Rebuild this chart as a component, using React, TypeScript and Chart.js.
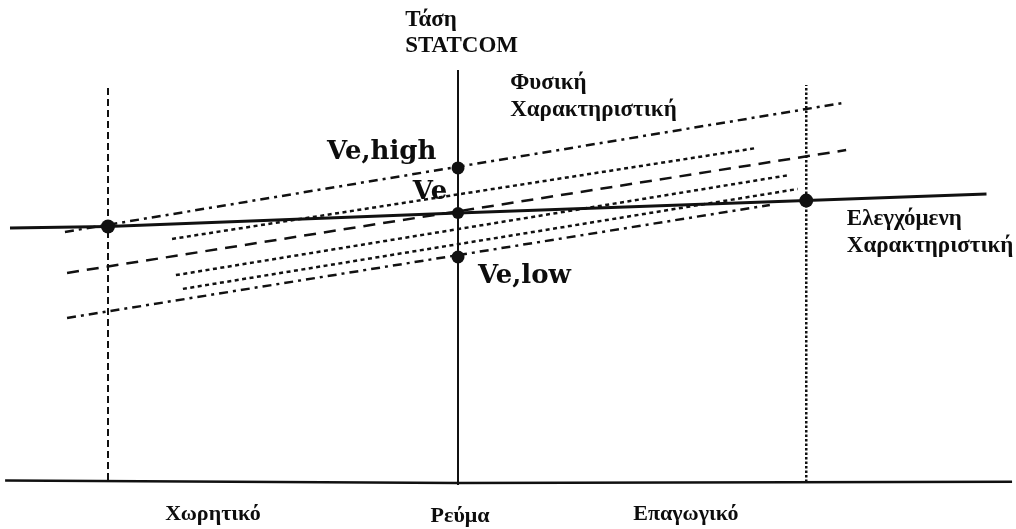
import React, { useEffect, useRef } from "react";
import { Chart, registerables } from "chart.js";

Chart.register(...registerables);

// STATCOM V–I characteristics.
// Current axis in per unit: capacitive limit at -1, inductive limit at +1.
// Voltage axis in per unit: reference voltage Ve = 1.0.

// Controlled characteristic (solid, slight droop)
const controlledI = [-1.28, -1.0, 0, 0.995, 1.51];
const controlledV = [0.944, 0.95, 1.0, 1.046, 1.07];

// Physical characteristics of the converter (family of sloped lines)
const physHighI = [-1.123, 1.097];
const physHighV = [0.93, 1.407];
const physDot1I = [-0.817, 0.854];
const physDot1V = [0.904, 1.241];
const physNomI = [-1.117, 1.109];
const physNomV = [0.778, 1.233];
const physDot2I = [-0.806, 0.949];
const physDot2V = [0.77, 1.141];
const physDot3I = [-0.786, 0.971];
const physDot3V = [0.719, 1.089];
const physLowI = [-1.117, 0.891];
const physLowV = [0.611, 1.03];

// Operating points on the controlled characteristic
const operatingI = [-1.0, 0, 0.995];
const operatingV = [0.95, 1.0, 1.046];

// Reference voltage band on the voltage axis
const bandI = [0, 0];
const bandV = [1.167, 0.837];

// Axes and current limits
const voltageAxisI = [0, 0];
const voltageAxisV = [-0.007, 1.53];
const currentAxisI = [-1.294, 0, 1.583];
const currentAxisV = [0.009, 0.0, 0.005];
const capLimitI = [-1.0, -1.0];
const capLimitV = [0.011, 1.463];
const indLimitI = [0.995, 0.995];
const indLimitV = [0.004, 1.474];

const zip = (xs: number[], ys: number[]) => xs.map((x, k) => ({ x, y: ys[k] }));

const INK = "#111111";
const TIMES = '"Liberation Serif", "Times New Roman", serif';
const DEJAVU = '"DejaVu Serif", serif';

type Label = {
  text: string;
  i: number;
  v: number;
  font: string;
  align: CanvasTextAlign;
};

const labelItems: Label[] = [
  { text: "Τάση", i: -0.151, v: 1.693, font: `bold 23px ${TIMES}`, align: "left" },
  { text: "STATCOM", i: -0.151, v: 1.596, font: `bold 23px ${TIMES}`, align: "left" },
  { text: "Φυσική", i: 0.149, v: 1.459, font: `bold 23px ${TIMES}`, align: "left" },
  { text: "Χαρακτηριστική", i: 0.149, v: 1.359, font: `bold 23px ${TIMES}`, align: "left" },
  { text: "Ve,high", i: -0.374, v: 1.2, font: `bold 26px ${DEJAVU}`, align: "left" },
  { text: "Ve", i: -0.129, v: 1.052, font: `bold 26px ${DEJAVU}`, align: "left" },
  { text: "Ve,low", i: 0.057, v: 0.741, font: `bold 26px ${DEJAVU}`, align: "left" },
  { text: "Ελεγχόμενη", i: 1.111, v: 0.956, font: `bold 23px ${TIMES}`, align: "left" },
  { text: "Χαρακτηριστική", i: 1.111, v: 0.856, font: `bold 23px ${TIMES}`, align: "left" },
  { text: "Χωρητικό", i: -0.7, v: -0.137, font: `bold 22px ${TIMES}`, align: "center" },
  { text: "Ρεύμα", i: 0.006, v: -0.144, font: `bold 22px ${TIMES}`, align: "center" },
  { text: "Επαγωγικό", i: 0.651, v: -0.137, font: `bold 22px ${TIMES}`, align: "center" },
];

const textPlugin = {
  id: "diagramText",
  afterDatasetsDraw(chart: any) {
    const { ctx, scales } = chart;
    ctx.save();
    ctx.fillStyle = "#0d0d0d";
    ctx.textBaseline = "alphabetic";
    for (const l of labelItems) {
      ctx.font = l.font;
      ctx.textAlign = l.align;
      ctx.fillText(l.text, scales.x.getPixelForValue(l.i), scales.y.getPixelForValue(l.v));
    }
    ctx.restore();
  },
};

const lineSet = (data: { x: number; y: number }[], width: number, dash: number[]) => ({
  data,
  showLine: true,
  borderColor: INK,
  backgroundColor: INK,
  borderWidth: width,
  borderDash: dash,
  pointRadius: 0,
  pointHoverRadius: 0,
  tension: 0,
});

export default function App() {
  const ref = useRef<HTMLCanvasElement | null>(null);

  useEffect(() => {
    if (!ref.current) return;
    const dashDot = [9, 5, 3, 5];
    const dotted = [4, 3.5];
    const dashed = [12, 8];
    const chart = new Chart(ref.current, {
      type: "scatter",
      data: {
        datasets: [
          lineSet(zip(currentAxisI, currentAxisV), 2.5, []),
          lineSet(zip(voltageAxisI, voltageAxisV), 2, []),
          lineSet(zip(capLimitI, capLimitV), 2, [7, 4]),
          lineSet(zip(indLimitI, indLimitV), 2.5, [2.5, 2]),
          lineSet(zip(physHighI, physHighV), 2.5, dashDot),
          lineSet(zip(physDot1I, physDot1V), 2.5, dotted),
          lineSet(zip(physNomI, physNomV), 2.5, dashed),
          lineSet(zip(physDot2I, physDot2V), 2.5, dotted),
          lineSet(zip(physDot3I, physDot3V), 2.5, dotted),
          lineSet(zip(physLowI, physLowV), 2.5, dashDot),
          lineSet(zip(controlledI, controlledV), 3, []),
          {
            data: zip(operatingI, operatingV),
            showLine: false,
            pointRadius: [7, 6, 7],
            pointBackgroundColor: INK,
            pointBorderColor: INK,
            pointBorderWidth: 0,
          },
          {
            data: zip(bandI, bandV),
            showLine: false,
            pointRadius: 6.5,
            pointBackgroundColor: INK,
            pointBorderColor: INK,
            pointBorderWidth: 0,
          },
        ],
      },
      options: {
        responsive: false,
        animation: false,
        devicePixelRatio: 1,
        layout: { padding: 0, autoPadding: false },
        events: [],
        plugins: {
          legend: { display: false },
          tooltip: { enabled: false },
        },
        scales: {
          x: { type: "linear", display: false, min: -458 / 350, max: (1016 - 458) / 350 },
          y: { type: "linear", display: false, min: (483 - 529) / 270, max: 483 / 270 },
        },
      },
      plugins: [textPlugin],
    });
    return () => chart.destroy();
  }, []);

  return (
    <div style={{ position: "fixed", left: 0, top: 0, width: 1016, height: 529, background: "#fff" }}>
      <canvas ref={ref} width={1016} height={529} style={{ display: "block" }} />
    </div>
  );
}
